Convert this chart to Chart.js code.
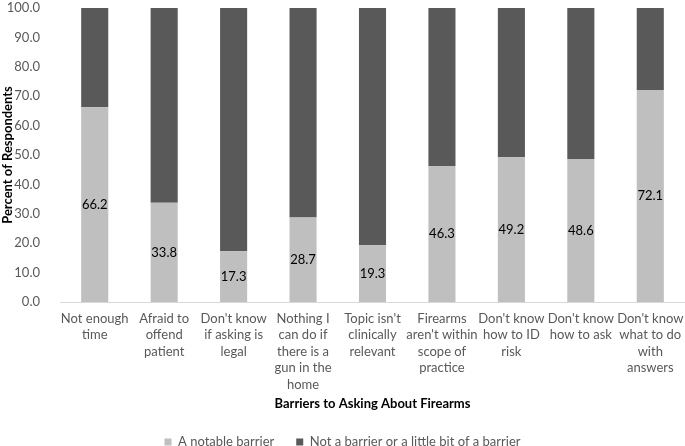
<!DOCTYPE html>
<html>
<head>
<meta charset="utf-8">
<script src="https://cdn.jsdelivr.net/npm/chart.js@4/dist/chart.umd.min.js"></script>
<style>
  html, body { margin: 0; padding: 0; background: #fff; }
  #wrap { width: 685px; height: 446px; }
</style>
</head>
<body>
<div id="wrap"><canvas id="chart"></canvas></div>
<script>
// barrier categories (wrapped the way the axis shows them)
const categories = [
    ['Not enough', 'time'],
    ['Afraid to', 'offend', 'patient'],
    ["Don't know", 'if asking is', 'legal'],
    ['Nothing I', 'can do if', 'there is a', 'gun in the', 'home'],
    ["Topic isn't", 'clinically', 'relevant'],
    ['Firearms', "aren't within", 'scope of', 'practice'],
    ["Don't know", 'how to ID', 'risk'],
    ["Don't know", 'how to ask'],
    ["Don't know", 'what to do', 'with', 'answers']
];
const notableBarrier = [66.2, 33.8, 17.3, 28.7, 19.3, 46.3, 49.2, 48.6, 72.1];
const notABarrier = [33.8, 66.2, 82.7, 71.3, 80.7, 53.7, 50.8, 51.4, 27.9];
const yTicks = [0, 10, 20, 30, 40, 50, 60, 70, 80, 90, 100];

const FONT = 'Lato, "Open Sans", sans-serif';

// centred value labels on the light segment only
const centerLabels = {
    id: 'centerLabels',
    afterDatasetsDraw(chart) {
        const ctx = chart.ctx;
        const meta = chart.getDatasetMeta(0);
        ctx.save();
        ctx.font = '13px ' + FONT;
        ctx.fillStyle = '#000';
        ctx.textAlign = 'center';
        ctx.textBaseline = 'middle';
        meta.data.forEach((bar, i) => {
            const yMid = (bar.y + bar.base) / 2;
            ctx.fillText(notableBarrier[i].toFixed(1), bar.x, yMid);
        });
        ctx.restore();
    }
};

new Chart(document.getElementById('chart'), {
    type: 'bar',
    data: {
        labels: categories,
        datasets: [{
            label: 'A notable barrier',
            data: notableBarrier,
            backgroundColor: '#bfbfbf'
        }, {
            label: 'Not a barrier or a little bit of a barrier',
            data: notABarrier,
            backgroundColor: '#595959'
        }]
    },
    options: {
        responsive: true,
        maintainAspectRatio: false,
        animation: false,
        // legend height is fixed by chart.js, so pull it down with negative bottom padding
        layout: { padding: { left: 0, right: 0, top: 8, bottom: -12.5 } },
        datasets: {
            bar: { categoryPercentage: 1, barPercentage: 0.39 }
        },
        scales: {
            x: {
                stacked: true,
                grid: { display: false },
                border: { display: true, color: '#d9d9d9', width: 1 },
                afterFit: axis => { axis.height = 111.5; },
                ticks: {
                    color: '#595959',
                    font: { family: FONT, size: 13, lineHeight: 1.28 },
                    maxRotation: 0,
                    autoSkip: false,
                    padding: 0
                },
                title: {
                    display: true,
                    text: 'Barriers to Asking About Firearms',
                    color: '#000',
                    font: { family: FONT, size: 13, weight: 'bold' },
                    padding: { top: 0, bottom: 1.7 }
                }
            },
            y: {
                stacked: true,
                min: 0,
                max: 100,
                grid: { display: false },
                border: { display: false },
                afterBuildTicks: axis => { axis.ticks = yTicks.map(v => ({ value: v })); },
                afterFit: axis => { axis.width = 60; axis.paddingTop = 0; axis.paddingBottom = 0; },
                ticks: {
                    color: '#595959',
                    font: { family: FONT, size: 13 },
                    padding: 12,
                    callback: v => Number(v).toFixed(1)
                },
                title: {
                    display: true,
                    text: 'Percent of Respondents',
                    color: '#000',
                    font: { family: FONT, size: 13, weight: 'bold' },
                    padding: { top: 0, bottom: 0 }
                }
            }
        },
        plugins: {
            legend: {
                position: 'bottom',
                labels: {
                    color: '#595959',
                    font: { family: FONT, size: 13 },
                    boxWidth: 7,
                    boxHeight: 7,
                    padding: 22
                }
            },
            tooltip: { enabled: false }
        }
    },
    plugins: [centerLabels]
});
</script>
</body>
</html>
